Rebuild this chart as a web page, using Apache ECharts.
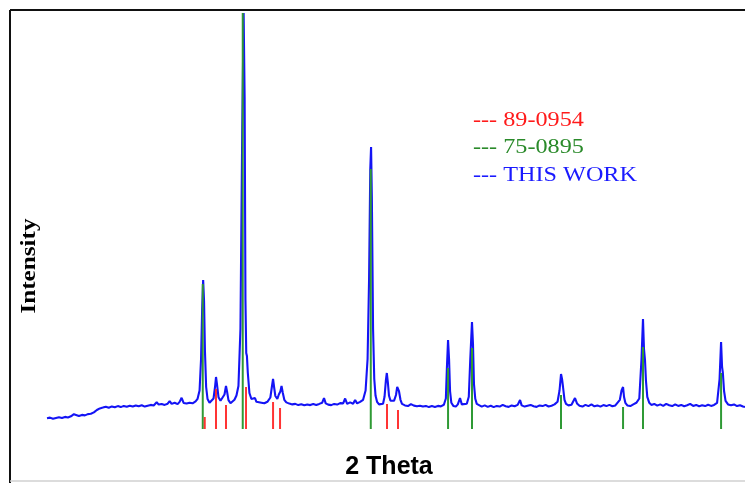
<!DOCTYPE html>
<html>
<head>
<meta charset="utf-8">
<script src="https://cdn.jsdelivr.net/npm/echarts@6/dist/echarts.min.js"></script>
<style>
  html, body { margin: 0; padding: 0; background: #fff; }
  #chart { width: 745px; height: 483px; }
</style>
</head>
<body>
<div id="chart"></div>
<script>
// Measured diffraction pattern: [2θ (deg), intensity (counts)]
const thisWork = [
  [10.0,108],[10.3,114],[10.6,102],[10.9,110],[11.2,118],[11.5,111],[11.8,121],[12.1,115],[12.4,127],[12.7,148],
  [12.9,134],[13.2,130],[13.5,141],[13.8,136],[14.1,149],[14.4,152],[14.7,166],[15.0,190],[15.3,206],[15.6,214],
  [15.9,223],[16.2,213],[16.5,226],[16.8,217],[17.1,229],[17.4,219],[17.7,231],[18.0,223],[18.3,233],[18.6,225],
  [18.9,235],[19.2,227],[19.5,237],[19.8,224],[20.1,233],[20.4,241],[20.7,235],[21.0,268],[21.2,244],[21.5,251],
  [21.8,241],[22.1,253],[22.3,279],[22.5,251],[22.8,263],[23.1,249],[23.3,271],[23.5,312],[23.7,261],[24.0,254],
  [24.3,263],[24.6,257],[24.9,276],[25.1,302],[25.3,385],[25.45,700],[25.56,1200],[25.66,1490],[25.75,1280],[25.84,780],
  [25.96,420],[26.1,300],[26.3,262],[26.5,268],[26.7,305],[26.85,420],[26.95,520],[27.05,445],[27.2,318],[27.4,282],
  [27.6,292],[27.8,345],[27.95,430],[28.05,378],[28.2,288],[28.4,258],[28.6,266],[28.8,292],[29.0,335],[29.2,430],
  [29.4,1000],[29.58,3000],[29.72,4160],[29.82,3300],[29.9,1300],[29.98,760],[30.05,730],[30.14,560],[30.3,360],[30.5,300],
  [30.7,290],[30.86,310],[31.0,272],[31.2,256],[31.5,263],[31.8,257],[32.1,272],[32.4,315],[32.55,420],[32.67,500],
  [32.78,415],[32.9,330],[33.1,302],[33.25,345],[33.4,375],[33.52,430],[33.65,360],[33.8,292],[34.0,266],[34.3,254],
  [34.6,246],[34.9,251],[35.2,239],[35.5,247],[35.8,237],[36.1,245],[36.4,239],[36.7,249],[37.0,240],[37.3,251],
  [37.6,263],[37.78,310],[37.95,256],[38.2,244],[38.5,239],[38.8,251],[39.1,244],[39.4,259],[39.7,256],[39.9,305],
  [40.1,251],[40.4,266],[40.7,252],[40.9,290],[41.1,256],[41.4,271],[41.7,292],[41.95,385],[42.15,700],[42.3,1500],
  [42.42,2600],[42.5,2820],[42.58,2300],[42.7,1000],[42.82,500],[42.95,332],[43.1,272],[43.3,246],[43.5,241],[43.7,252],
  [43.85,322],[43.98,480],[44.08,560],[44.18,470],[44.3,332],[44.45,282],[44.6,262],[44.8,282],[45.0,340],[45.12,420],
  [45.2,440],[45.3,378],[45.45,292],[45.6,251],[45.9,236],[46.2,229],[46.5,249],[46.8,234],[47.1,228],[47.4,233],
  [47.7,224],[48.0,231],[48.3,219],[48.6,229],[48.9,221],[49.2,231],[49.5,226],[49.8,242],[50.0,305],[50.1,600],
  [50.22,890],[50.32,700],[50.42,380],[50.55,262],[50.75,231],[51.0,224],[51.2,246],[51.42,310],[51.6,246],[51.8,231],
  [52.1,252],[52.3,322],[52.45,700],[52.62,1070],[52.72,850],[52.82,450],[52.95,302],[53.1,251],[53.3,231],[53.6,224],
  [53.9,236],[54.2,221],[54.5,233],[54.8,219],[55.1,231],[55.4,224],[55.7,241],[56.0,227],[56.3,221],[56.6,236],
  [56.9,227],[57.2,241],[57.44,290],[57.6,236],[57.9,224],[58.2,233],[58.5,241],[58.8,227],[59.1,221],[59.4,236],
  [59.7,229],[60.0,241],[60.3,225],[60.6,233],[60.9,246],[61.2,272],[61.4,385],[61.55,550],[61.65,500],[61.75,420],
  [61.9,292],[62.05,252],[62.3,236],[62.6,242],[62.8,262],[62.95,310],[63.15,256],[63.4,233],[63.7,224],[64.0,241],
  [64.3,229],[64.6,246],[64.9,227],[65.2,236],[65.5,224],[65.8,239],[66.1,229],[66.4,241],[66.7,227],[67.0,236],
  [67.2,242],[67.45,292],[67.62,385],[67.77,420],[67.87,320],[68.0,262],[68.2,236],[68.5,229],[68.8,246],[69.1,262],
  [69.4,305],[69.62,700],[69.77,1100],[69.87,800],[69.97,690],[70.07,480],[70.2,322],[70.4,262],[70.6,241],[70.9,251],
  [71.2,234],[71.5,246],[71.8,231],[72.1,251],[72.4,237],[72.7,229],[73.0,246],[73.3,231],[73.6,241],[73.9,227],
  [74.2,237],[74.5,251],[74.8,231],[75.1,241],[75.4,227],[75.7,237],[76.0,229],[76.3,243],[76.6,231],[76.9,241],
  [77.2,262],[77.45,500],[77.6,870],[77.7,620],[77.78,560],[77.9,380],[78.05,282],[78.3,246],[78.6,237],[78.9,246],
  [79.2,229],[79.5,238],[79.8,225],[80.0,220]
];

// Reference card 75-0895: peak positions and stick heights
const card75Pos = [25.62, 29.63, 42.47, 50.22, 52.62, 61.55, 67.77, 69.77, 77.60];
const card75Int = [1450, 4160, 2600, 610, 810, 340, 220, 820, 560];

// Reference card 89-0954: peak positions and stick heights
const card89Pos = [25.82, 26.95, 27.95, 29.96, 32.67, 33.37, 44.10, 45.20];
const card89Int = [120, 400, 240, 420, 270, 210, 250, 190];

// Legend entries
const legendLabels = ['--- 89-0954', '--- 75-0895', '--- THIS WORK'];
const legendColors = ['#ff1a1a', '#2a8a2a', '#1a1aff'];

const xAxisName = '2 Theta';
const yAxisName = 'Intensity';

const zip = (xs, ys) => xs.map((x, i) => [x, ys[i]]);

// Vertical stick from zero up to the card intensity
function stickRenderer(color, width) {
  return function (params, api) {
    const base = api.coord([api.value(0), 0]);
    const top = api.coord([api.value(0), api.value(1)]);
    return {
      type: 'line',
      shape: { x1: base[0], y1: base[1], x2: top[0], y2: top[1] },
      style: { stroke: color, lineWidth: width }
    };
  };
}

const chart = echarts.init(document.getElementById('chart'), null, { renderer: 'canvas' });

chart.setOption({
  animation: false,
  backgroundColor: '#ffffff',
  grid: { left: 47, right: 0, top: 10, bottom: 54 },
  xAxis: { type: 'value', min: 10, max: 80, show: false },
  yAxis: { type: 'value', min: 0, max: 4190, show: false },
  series: [
    {
      name: 'THIS WORK',
      type: 'line',
      data: thisWork,
      showSymbol: false,
      lineStyle: { color: '#1414f5', width: 2.1 },
      z: 2
    },
    {
      name: '75-0895',
      type: 'custom',
      data: zip(card75Pos, card75Int),
      renderItem: stickRenderer('#2f9a35', 2),
      z: 3
    },
    {
      name: '89-0954',
      type: 'custom',
      data: zip(card89Pos, card89Int),
      renderItem: stickRenderer('rgba(255,30,30,0.9)', 2),
      z: 4
    }
  ],
  graphic: [
    // plot frame
    { type: 'line', shape: { x1: 10, y1: 10, x2: 745, y2: 10 }, style: { stroke: '#111', lineWidth: 2 }, z: 10 },
    { type: 'line', shape: { x1: 10, y1: 10, x2: 10, y2: 483 }, style: { stroke: '#111', lineWidth: 2 }, z: 10 },
    { type: 'line', shape: { x1: 10, y1: 481, x2: 745, y2: 481 }, style: { stroke: '#d0d0d0', lineWidth: 1.5 }, z: 10 },
    // legend
    ...legendLabels.map((t, i) => ({
      type: 'text',
      x: 473, y: 120 + i * 27.5,
      scaleX: 1.1,
      style: {
        text: t, fill: legendColors[i],
        font: '22px "Liberation Serif", "Times New Roman", serif',
        textAlign: 'left', textVerticalAlign: 'middle'
      },
      z: 10
    })),
    // axis titles
    {
      type: 'text',
      x: 30, y: 266,
      rotation: Math.PI / 2,
      scaleX: 1.2,
      style: {
        text: yAxisName, fill: '#000',
        font: 'bold 21px "Liberation Serif", "Times New Roman", serif',
        textAlign: 'center', textVerticalAlign: 'middle'
      },
      z: 10
    },
    {
      type: 'text',
      x: 389, y: 467,
      style: {
        text: xAxisName, fill: '#000',
        font: 'bold 25px "Liberation Sans", Arial, sans-serif',
        textAlign: 'center', textVerticalAlign: 'middle'
      },
      z: 10
    }
  ]
});
</script>
</body>
</html>
